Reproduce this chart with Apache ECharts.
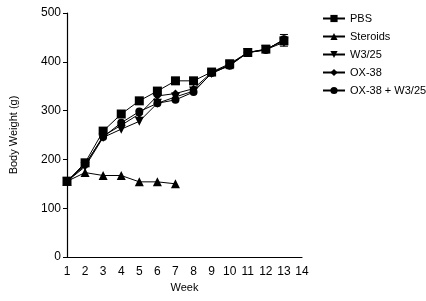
<!DOCTYPE html>
<html><head><meta charset="utf-8">
<script src="https://cdn.jsdelivr.net/npm/echarts@6/dist/echarts.min.js"></script>
<style>html,body{margin:0;padding:0;background:#fff}#c{width:426px;height:301px}</style>
</head><body><div id="c"></div>
<script>
var weeks = [1,2,3,4,5,6,7,8,9,10,11,12,13];
var pbs      = [155,193,258,293,320,340,361,361,379,396,419,426,443];
var steroids = [155,173,167,167,154,154,150];
var w325     = [155,185,245,262,278,315,328,340,376,393,419,425,440];
var ox38     = [155,188,248,270,293,330,335,345,378,394,419,425,445];
var oxw325   = [155,190,246,275,298,315,322,338,377,392,419,424,446];
var errWeeks = [10,13];
var errLow   = [386,432];
var errHigh  = [402,456];
var names = ['PBS','Steroids','W3/25','OX-38','OX-38 + W3/25'];
var symbols = ['rect','triangle','path://M0,0 L10,0 L5,10 Z','diamond','circle'];
var sizes = [9,9,9,8,8];
var datasets = [pbs, steroids, w325, ox38, oxw325];

function pairs(arr){ return arr.map(function(v,i){ return [weeks[i], v]; }); }

var series = datasets.map(function(d,i){
  return {
    name: names[i], type:'line', data: pairs(d),
    symbol: symbols[i], symbolSize: sizes[i], showAllSymbol:true,
    lineStyle:{color:'#000', width:1}, itemStyle:{color:'#000'},
    animation:false, z: 5 - i
  };
});
series.push({
  type:'custom', silent:true, z:1,
  data: errWeeks.map(function(w,i){ return [w, errLow[i], errHigh[i]]; }),
  renderItem: function(params, api){
    var lo = api.coord([api.value(0), api.value(1)]);
    var hi = api.coord([api.value(0), api.value(2)]);
    var hw = 4;
    return {type:'group', children:[
      {type:'line', shape:{x1:lo[0],y1:lo[1],x2:hi[0],y2:hi[1]}, style:{stroke:'#000',lineWidth:1}},
      {type:'line', shape:{x1:lo[0]-hw,y1:lo[1],x2:lo[0]+hw,y2:lo[1]}, style:{stroke:'#000',lineWidth:1}},
      {type:'line', shape:{x1:hi[0]-hw,y1:hi[1],x2:hi[0]+hw,y2:hi[1]}, style:{stroke:'#000',lineWidth:1}}
    ]};
  }
});

var chart = echarts.init(document.getElementById('c'));
chart.setOption({
  backgroundColor:'#fff',
  animation:false,
  grid:{left:62, right:124, top:13, bottom:44},
  legend:{
    orient:'vertical', left:317, top:8, itemWidth:22, itemHeight:9, itemGap:7,
    textStyle:{fontFamily:'Liberation Sans, Arial', fontSize:11, color:'#000'},
    data: names
  },
  xAxis:{
    type:'value', min:1, max:14, interval:1,
    name:'Week', nameLocation:'middle', nameGap:24,
    nameTextStyle:{fontFamily:'Liberation Sans, Arial', fontSize:11, color:'#000'},
    axisLine:{lineStyle:{color:'#000', width:1.2}},
    axisTick:{show:false},
    axisLabel:{color:'#000', fontFamily:'Liberation Sans, Arial', fontSize:12, margin:9},
    splitLine:{show:false}
  },
  yAxis:{
    type:'value', min:0, max:500, interval:100,
    name:'Body Weight (g)', nameLocation:'middle', nameGap:48,
    nameTextStyle:{fontFamily:'Liberation Sans, Arial', fontSize:11, color:'#000'},
    axisLine:{show:true, lineStyle:{color:'#000', width:1.2}},
    axisTick:{show:true, length:4, lineStyle:{color:'#000'}},
    axisLabel:{color:'#000', fontFamily:'Liberation Sans, Arial', fontSize:12, margin:6},
    splitLine:{show:false}
  },
  series: series
});
</script></body></html>
